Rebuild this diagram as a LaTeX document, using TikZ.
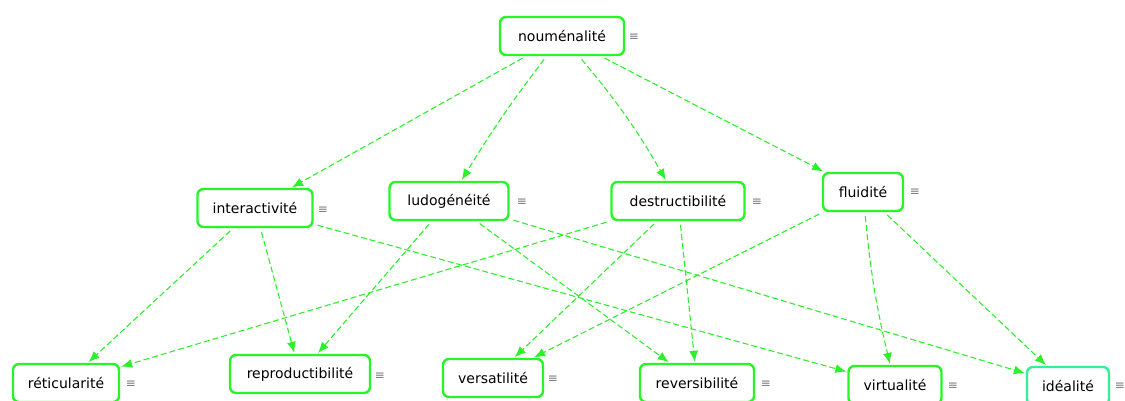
\documentclass[tikz,border=0pt]{standalone}
\usepackage{fontspec}
\setmainfont{DejaVu Sans}
\usetikzlibrary{arrows.meta}
\definecolor{boxgreen}{RGB}{40,245,40}
\definecolor{edgegreen}{RGB}{45,240,45}
\definecolor{tealgreen}{RGB}{50,240,150}
\definecolor{symgrey}{RGB}{120,120,120}
\tikzset{
  concept/.style={draw=boxgreen, line width=2.4pt, rounded corners=6pt, fill=white,
    minimum height=38pt, inner sep=0pt, font=\fontsize{14pt}{16pt}\selectfont},
  menu/.style={text=symgrey, font=\fontsize{12pt}{13pt}\selectfont, inner sep=0pt},
  link/.style={draw=edgegreen, line width=1.1pt, dash pattern=on 6pt off 3pt,
    -{Latex[length=11pt,width=9pt]}, shorten <=4pt, shorten >=1pt}
}
\begin{document}
\begin{tikzpicture}[x=1pt,y=-1pt]
\useasboundingbox (0,0) rectangle (1125,401);
% nodes
\node[concept, minimum width=124pt] (nou) at (562,36) {nouménalité};
\node[menu] (nouM) at (634,37) {≡};
\node[concept, minimum width=115pt] (int) at (255,208) {interactivité};
\node[menu] (intM) at (323,210) {≡};
\node[concept, minimum width=119pt] (lud) at (449,201) {ludogénéité};
\node[menu] (ludM) at (522,202) {≡};
\node[concept, minimum width=133pt] (des) at (678,201) {destructibilité};
\node[menu] (desM) at (757,202) {≡};
\node[concept, minimum width=80pt] (flu) at (863,192) {fluidité};
\node[menu] (fluM) at (915,192) {≡};
\node[concept, minimum width=106pt] (ret) at (66,383) {réticularité};
\node[menu] (retM) at (131,384) {≡};
\node[concept, minimum width=140pt] (rep) at (300,374) {reproductibilité};
\node[menu] (repM) at (380,376) {≡};
\node[concept, minimum width=100pt] (ver) at (493,378) {versatilité};
\node[menu] (verM) at (553,379) {≡};
\node[concept, minimum width=114pt] (rev) at (697,383) {reversibilité};
\node[menu] (revM) at (766,384) {≡};
\node[concept, minimum width=93pt] (vir) at (895,385) {virtualité};
\node[menu] (virM) at (953,386) {≡};
\node[concept, draw=tealgreen, minimum width=82pt] (ide) at (1068,386) {idéalité};
\node[menu] (ideM) at (1120,386) {≡};
% connectors
\draw[link] (nou) -- (int);
\draw[link] (nou) to[bend right=3] (lud);
\draw[link] (nou) to[bend left=5] (des);
\draw[link] (nou) -- (flu);
\draw[link] (int) -- (ret);
\draw[link] (int) -- (rep);
\draw[link] (int) -- (vir);
\draw[link] (lud) -- (rep);
\draw[link] (lud) -- (rev);
\draw[link] (lud) -- (ide);
\draw[link] (des) -- (ret);
\draw[link] (des) -- (ver);
\draw[link] (des) -- (rev);
\draw[link] (flu) -- (ver);
\draw[link] (flu) to[bend right=4] (vir);
\draw[link] (flu) -- (ide);
\end{tikzpicture}
\end{document}
